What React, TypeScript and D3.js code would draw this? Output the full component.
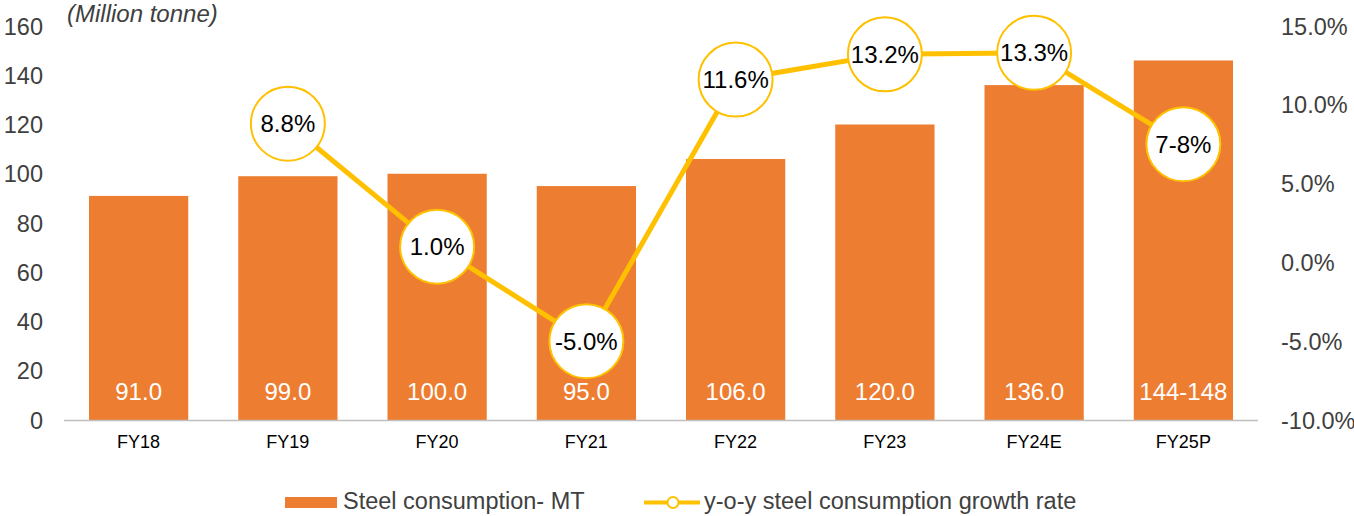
import React from "react";
import * as d3 from "d3";

const categories = ["FY18", "FY19", "FY20", "FY21", "FY22", "FY23", "FY24E", "FY25P"];
const consumption = [91, 99, 100, 95, 106, 120, 136, 146];
const consumptionLabels = ["91.0", "99.0", "100.0", "95.0", "106.0", "120.0", "136.0", "144-148"];
const growthCats = ["FY19", "FY20", "FY21", "FY22", "FY23", "FY24E", "FY25P"];
const growth = [8.8, 1.0, -5.0, 11.6, 13.2, 13.3, 7.5];
const growthLabels = ["8.8%", "1.0%", "-5.0%", "11.6%", "13.2%", "13.3%", "7-8%"];
const leftTicks = [0, 20, 40, 60, 80, 100, 120, 140, 160];
const rightTicks = [-10, -5, 0, 5, 10, 15];

const W = 1354, H = 516;
const FONT = "'Liberation Sans', Arial, sans-serif";
const ORANGE = "#ED7D31";
const GOLD = "#FFC000";

export default function App() {
  const x = d3.scaleBand<string>().domain(categories).range([64, 1258]).paddingInner(0.335).paddingOuter(0.1675);
  const yL = d3.scaleLinear().domain([0, 160]).range([420, 26]);
  const yR = d3.scaleLinear().domain([-10, 15]).range([420, 26]);
  const cx = (c: string) => (x(c) as number) + x.bandwidth() / 2;
  const line = d3.line<number>().x((_, i) => cx(growthCats[i])).y((d) => yR(d));

  return (
    <svg width={W} height={H} style={{ position: "absolute", left: 0, top: 0, fontFamily: FONT }}>
      <rect width={W} height={H} fill="#fff" />
      <text x={67} y={22} fontSize={24} fontStyle="italic" fill="#404040">(Million tonne)</text>
      {leftTicks.map((t) => (
        <text key={t} x={43} y={yL(t) + 8.5} fontSize={23.5} textAnchor="end" fill="#404040">{t}</text>
      ))}
      {rightTicks.map((t) => (
        <text key={t} x={1281} y={yR(t) + 8.5} fontSize={23.5} fill="#404040">{t.toFixed(1)}%</text>
      ))}
      {categories.map((c, i) => (
        <g key={c}>
          <rect x={x(c)} y={yL(consumption[i])} width={x.bandwidth()} height={yL(0) - yL(consumption[i])} fill={ORANGE} />
          <text x={cx(c)} y={400} fontSize={24} textAnchor="middle" fill="#fff">{consumptionLabels[i]}</text>
          <text x={cx(c)} y={448} fontSize={18} textAnchor="middle" fill="#000">{c}</text>
        </g>
      ))}
      <line x1={64} x2={1258} y1={420.5} y2={420.5} stroke="#BFBFBF" strokeWidth={1.5} />
      <path d={line(growth) || ""} fill="none" stroke={GOLD} strokeWidth={5} strokeLinejoin="round" />
      {growth.map((g, i) => (
        <g key={growthCats[i]}>
          <circle cx={cx(growthCats[i])} cy={yR(g)} r={37} fill="#fff" stroke={GOLD} strokeWidth={2} />
          <text x={cx(growthCats[i])} y={yR(g) + 8.5} fontSize={24} textAnchor="middle" fill="#000">{growthLabels[i]}</text>
        </g>
      ))}
      <rect x={285} y={497} width={52} height={11} fill={ORANGE} />
      <text x={343} y={509} fontSize={23.5} fill="#404040">Steel consumption- MT</text>
      <line x1={644} x2={700} y1={502.5} y2={502.5} stroke={GOLD} strokeWidth={4} />
      <circle cx={673} cy={502.5} r={5.5} fill="#fff" stroke={GOLD} strokeWidth={2} />
      <text x={704} y={509} fontSize={23.5} fill="#404040">y-o-y steel consumption growth rate</text>
    </svg>
  );
}
